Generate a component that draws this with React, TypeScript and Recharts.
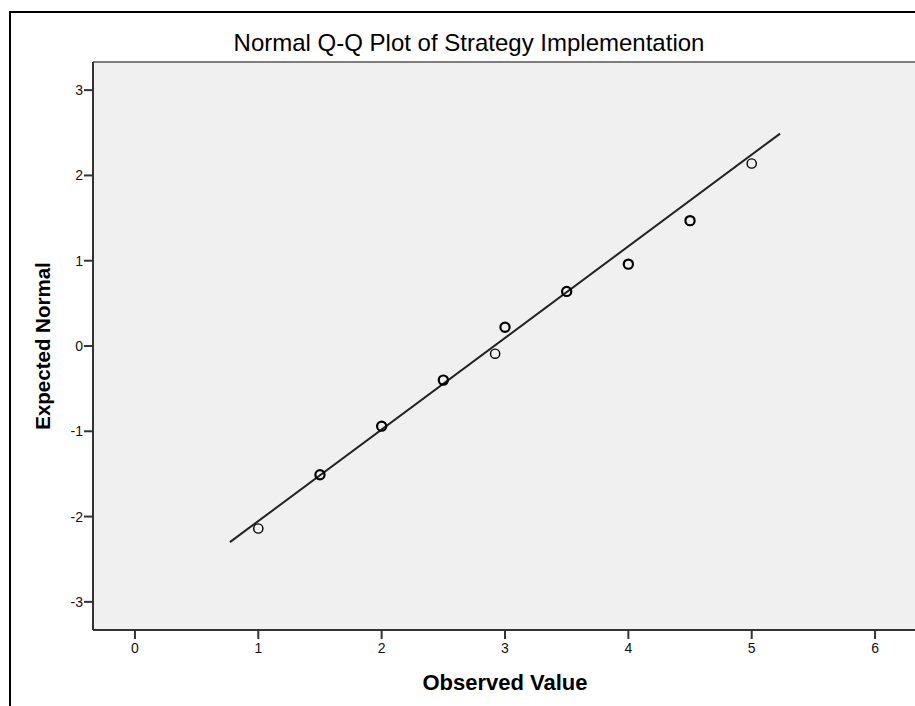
import {
    ScatterChart,
    Scatter,
    XAxis,
    YAxis,
    CartesianGrid,
    ReferenceLine,
    Label,
} from 'recharts';

// observed values and their expected normal scores
const observed = [1.0, 1.5, 2.0, 2.5, 2.92, 3.0, 3.5, 4.0, 4.5, 5.0];
const expected = [-2.14, -1.51, -0.94, -0.4, -0.09, 0.22, 0.64, 0.96, 1.47, 2.14];
// how many cases sit on each point (darker rings = several)
const counts = [1, 3, 3, 3, 1, 3, 3, 3, 3, 1];

// fitted normal line ends
const lineStart = { x: 0.77, y: -2.3 };
const lineEnd = { x: 5.23, y: 2.49 };

const xTicks = [0, 1, 2, 3, 4, 5, 6];
const yTicks = [-3, -2, -1, 0, 1, 2, 3];

const points = observed.map((x, i) => ({ x, y: expected[i], n: counts[i] }));

const font = '"Liberation Sans", Arial, sans-serif';
const tickText = { fontSize: '14px', fontFamily: font, fill: '#111' };

const Ring = (props: any) => {
    const { cx, cy, payload } = props;
    return (
        <circle
            cx={cx}
            cy={cy}
            r={4.6}
            fill="none"
            stroke="#000"
            strokeWidth={payload.n > 1 ? 2.2 : 1.4}
        />
    );
};

const renderXTick = (props: any) => {
    const { x, y, payload } = props;
    return (
        <text x={x} y={y + 12} textAnchor="middle" style={tickText}>
            {payload.value}
        </text>
    );
};

const renderYTick = (props: any) => {
    const { x, y, payload } = props;
    return (
        <text x={x + 1} y={y + 5} textAnchor="end" style={tickText}>
            {payload.value}
        </text>
    );
};

export default function App() {
    return (
        <div
            style={{
                position: 'fixed',
                left: 0,
                top: 0,
                width: 915,
                height: 706,
                overflow: 'hidden',
                background: '#fff',
            }}
        >
            {/* frame around the output */}
            <div style={{ position: 'absolute', left: 9, top: 11, width: 906, height: 2, background: '#000' }} />
            <div style={{ position: 'absolute', left: 9, top: 11, width: 2, height: 695, background: '#000' }} />

            <div
                style={{
                    position: 'absolute',
                    left: 0,
                    top: 29,
                    width: 938,
                    textAlign: 'center',
                    fontFamily: font,
                    fontSize: 24,
                    color: '#000',
                }}
            >
                Normal Q-Q Plot of Strategy Implementation
            </div>

            <div style={{ position: 'absolute', left: 0, top: 0 }}>
                <ScatterChart
                    width={940}
                    height={706}
                    margin={{ top: 62, right: 23, bottom: 0, left: 33 }}
                >
                    <CartesianGrid fill="#f0f0f0" horizontal={false} vertical={false} />
                    <XAxis
                        type="number"
                        dataKey="x"
                        domain={[-0.34, 6.34]}
                        ticks={xTicks}
                        height={76}
                        tick={renderXTick}
                        tickSize={9}
                        tickMargin={2}
                        axisLine={{ stroke: '#333', strokeWidth: 2 }}
                        tickLine={{ stroke: '#333', strokeWidth: 2 }}
                        allowDataOverflow
                    >
                        <Label
                            content={() => (
                                <text
                                    x={505}
                                    y={690}
                                    textAnchor="middle"
                                    fontFamily={font}
                                    fontWeight="bold"
                                    fontSize={22}
                                    fill="#000"
                                >
                                    Observed Value
                                </text>
                            )}
                        />
                    </XAxis>
                    <YAxis
                        type="number"
                        dataKey="y"
                        domain={[-3.33, 3.33]}
                        ticks={yTicks}
                        width={60}
                        tick={renderYTick}
                        tickSize={9}
                        tickMargin={2}
                        axisLine={{ stroke: '#333', strokeWidth: 2 }}
                        tickLine={{ stroke: '#333', strokeWidth: 2 }}
                        allowDataOverflow
                    >
                        <Label
                            content={() => (
                                <text
                                    x={50}
                                    y={346}
                                    transform="rotate(-90 50 346)"
                                    textAnchor="middle"
                                    fontFamily={font}
                                    fontWeight="bold"
                                    fontSize={20.5}
                                    fill="#000"
                                >
                                    Expected Normal
                                </text>
                            )}
                        />
                    </YAxis>
                    <ReferenceLine y={3.33} stroke="#555" strokeWidth={1.5} />
                    <ReferenceLine
                        segment={[lineStart, lineEnd]}
                        stroke="#222"
                        strokeWidth={2}
                    />
                    <Scatter data={points} shape={Ring} isAnimationActive={false} />
                </ScatterChart>
            </div>
        </div>
    );
}
